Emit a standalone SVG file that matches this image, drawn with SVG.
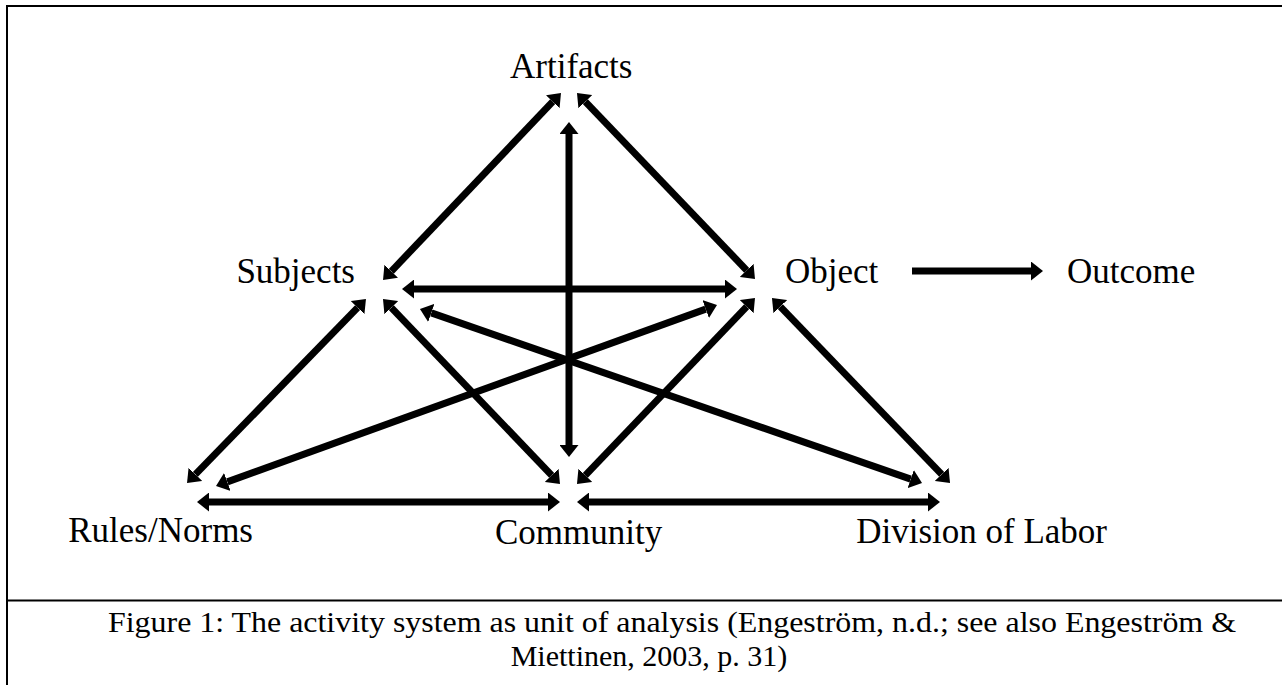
<svg xmlns="http://www.w3.org/2000/svg" width="1282" height="685" viewBox="0 0 1282 685">
<defs>
<style>
.lbl{font-family:"Liberation Serif","Times New Roman",serif;font-size:35px;fill:#000}
.cap{font-family:"Liberation Serif","Times New Roman",serif;font-size:30px;fill:#000}
.c{stroke:#000;stroke-width:7;fill:none}
.frame{stroke:#000;stroke-width:2;fill:none}
</style>
<marker id="ah" viewBox="0 0 12 19" refX="0" refY="9.5" markerWidth="12" markerHeight="19" markerUnits="userSpaceOnUse" orient="auto-start-reverse">
<path d="M0,0 L12,9.5 L0,19 Z" fill="#000"/>
</marker>
</defs>
<rect width="1282" height="685" fill="#fff"/>
<g id="frame">
<line class="frame" x1="6" y1="6" x2="1282" y2="6"/>
<line class="frame" x1="7" y1="5" x2="7" y2="685"/>
<line class="frame" x1="7" y1="600.5" x2="1282" y2="600.5"/>
</g>
<g id="connectors">
<line class="c" x1="552.7" y1="101.7" x2="391.3" y2="271.3" marker-start="url(#ah)" marker-end="url(#ah)"/>
<line class="c" x1="585.3" y1="101.7" x2="746.7" y2="270.3" marker-start="url(#ah)" marker-end="url(#ah)"/>
<line class="c" x1="569" y1="134" x2="569" y2="445" marker-start="url(#ah)" marker-end="url(#ah)"/>
<line class="c" x1="414" y1="289" x2="725" y2="289" marker-start="url(#ah)" marker-end="url(#ah)"/>
<line class="c" x1="912" y1="271" x2="1031" y2="271" marker-end="url(#ah)"/>
<line class="c" x1="357.6" y1="307.6" x2="195.4" y2="474.4" marker-start="url(#ah)" marker-end="url(#ah)"/>
<line class="c" x1="391.3" y1="307.7" x2="551.7" y2="475.3" marker-start="url(#ah)" marker-end="url(#ah)"/>
<line class="c" x1="431.3" y1="312.9" x2="910.7" y2="479.1" marker-start="url(#ah)" marker-end="url(#ah)"/>
<line class="c" x1="705.7" y1="309.1" x2="227.3" y2="481.9" marker-start="url(#ah)" marker-end="url(#ah)"/>
<line class="c" x1="746.7" y1="306.7" x2="585.3" y2="475.3" marker-start="url(#ah)" marker-end="url(#ah)"/>
<line class="c" x1="780.3" y1="306.6" x2="941.7" y2="474.4" marker-start="url(#ah)" marker-end="url(#ah)"/>
<line class="c" x1="209" y1="502" x2="548" y2="502" marker-start="url(#ah)" marker-end="url(#ah)"/>
<line class="c" x1="589" y1="502" x2="928" y2="502" marker-start="url(#ah)" marker-end="url(#ah)"/>
</g>
<g id="artifacts"><text class="lbl" x="510" y="78">Artifacts</text></g>
<g id="subjects"><text class="lbl" x="355" y="283" text-anchor="end">Subjects</text></g>
<g id="object"><text class="lbl" x="785" y="283">Object</text></g>
<g id="outcome"><text class="lbl" x="1067" y="283">Outcome</text></g>
<g id="rules"><text class="lbl" x="253" y="542" text-anchor="end">Rules/Norms</text></g>
<g id="community"><text class="lbl" x="495" y="544">Community</text></g>
<g id="division"><text class="lbl" x="1107" y="543" text-anchor="end">Division of Labor</text></g>
<g id="caption">
<text class="cap" x="108" y="632" textLength="1128" lengthAdjust="spacingAndGlyphs">Figure 1: The activity system as unit of analysis (Engeström, n.d.; see also Engeström &amp;</text>
<text class="cap" x="649" y="666" text-anchor="middle">Miettinen, 2003, p. 31)</text>
</g>
</svg>
